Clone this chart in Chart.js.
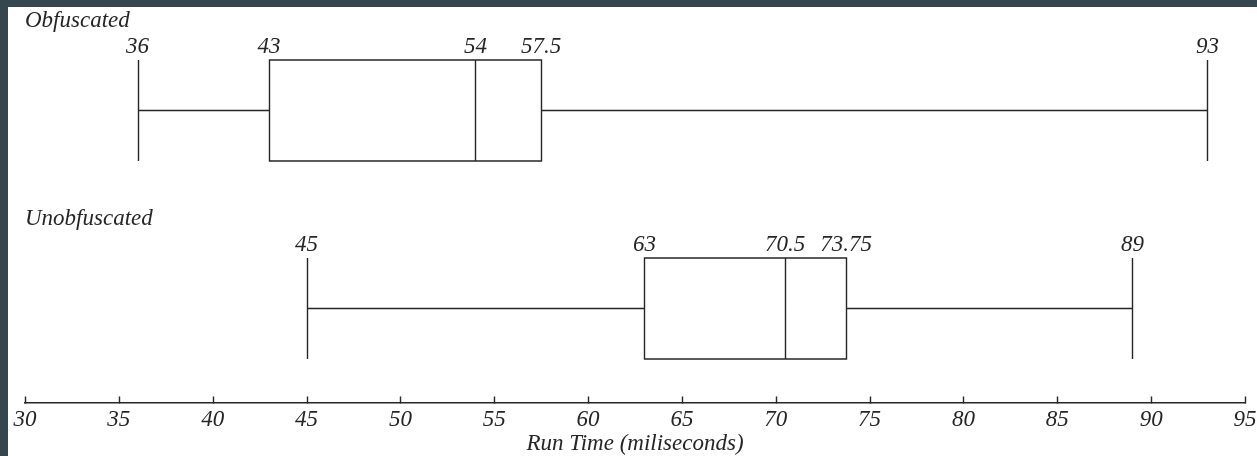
<!DOCTYPE html>
<html><head><meta charset="utf-8">
<script src="https://cdn.jsdelivr.net/npm/chart.js@4/dist/chart.umd.min.js"></script>
<style>
html,body{margin:0;padding:0;background:#35464f;width:1257px;height:456px;overflow:hidden}
#wrap{position:absolute;left:8px;top:7px;width:1249px;height:449px;background:#fff}
canvas{display:block}
</style></head><body>
<div id="wrap"><canvas id="c" width="1249" height="449"></canvas></div>
<script>
const groups = ['Obfuscated', 'Unobfuscated'];
const mins = [36, 45];
const q1s = [43, 63];
const medians = [54, 70.5];
const q3s = [57.5, 73.75];
const maxs = [93, 89];
const rowY = [2, 0];
const xMin = 30, xMax = 95, xStep = 5;
const xTitle = 'Run Time (miliseconds)';

const FONT = '"Liberation Serif", "Times New Roman", serif';
const INK = '#262626';
const FS = 23;

const boxPlugin = {
  id: 'boxplots',
  afterDatasetsDraw(chart) {
    const ctx = chart.ctx, xs = chart.scales.x, ys = chart.scales.y;
    const half = 50.5;
    ctx.save();
    ctx.strokeStyle = INK;
    ctx.lineWidth = 1.4;
    ctx.fillStyle = INK;
    ctx.font = 'italic ' + FS + 'px ' + FONT;
    groups.forEach((g, i) => {
      const yc = Math.round(ys.getPixelForValue(rowY[i])) + 0.5;
      const top = yc - half, bot = yc + half;
      const px = v => Math.round(xs.getPixelForValue(v)) + 0.5;
      const xMn = px(mins[i]), xQ1 = px(q1s[i]), xMd = px(medians[i]), xQ3 = px(q3s[i]), xMx = px(maxs[i]);
      ctx.beginPath();
      ctx.moveTo(xMn, yc); ctx.lineTo(xQ1, yc);
      ctx.moveTo(xQ3, yc); ctx.lineTo(xMx, yc);
      ctx.moveTo(xMn, top); ctx.lineTo(xMn, bot);
      ctx.moveTo(xMx, top); ctx.lineTo(xMx, bot);
      ctx.moveTo(xMd, top); ctx.lineTo(xMd, bot);
      ctx.rect(xQ1, top, xQ3 - xQ1, bot - top);
      ctx.stroke();
      ctx.textAlign = 'center';
      ctx.textBaseline = 'alphabetic';
      [mins[i], q1s[i], medians[i], q3s[i], maxs[i]].forEach(v => {
        ctx.fillText(String(v), xs.getPixelForValue(v), top - 7);
      });
      ctx.textAlign = 'left';
      ctx.fillText(g, chart.chartArea.left, top - 33);
    });
    // axis tick marks pointing up
    const yb = Math.round(chart.chartArea.bottom) + 0.5;
    ctx.beginPath();
    for (let v = xMin; v <= xMax; v += xStep) {
      const x = Math.round(xs.getPixelForValue(v)) + 0.5;
      ctx.moveTo(x, yb); ctx.lineTo(x, yb - 7);
    }
    ctx.stroke();
    ctx.restore();
  }
};

new Chart(document.getElementById('c'), {
  type: 'scatter',
  data: { datasets: [{ data: [], pointRadius: 0 }] },
  options: {
    responsive: false,
    animation: false,
    events: [],
    layout: { padding: { left: 17, right: 12, top: 0, bottom: 0 } },
    plugins: { legend: { display: false }, tooltip: { enabled: false } },
    scales: {
      x: {
        type: 'linear', min: xMin, max: xMax,
        afterFit: s => { s.height = 53; s.paddingLeft = 0; s.paddingRight = 0; },
        ticks: { stepSize: xStep, color: INK, font: { family: FONT, size: FS, style: 'italic' }, padding: 3, maxRotation: 0 },
        grid: { display: false, drawTicks: false },
        border: { display: true, color: INK, width: 1.4 },
        title: { display: true, text: xTitle, color: INK, font: { family: FONT, size: FS, style: 'italic' }, padding: { top: 0, bottom: -2 } }
      },
      y: { type: 'linear', display: false, min: -0.955, max: 3.045 }
    }
  },
  plugins: [boxPlugin]
});
</script>
</body></html>
